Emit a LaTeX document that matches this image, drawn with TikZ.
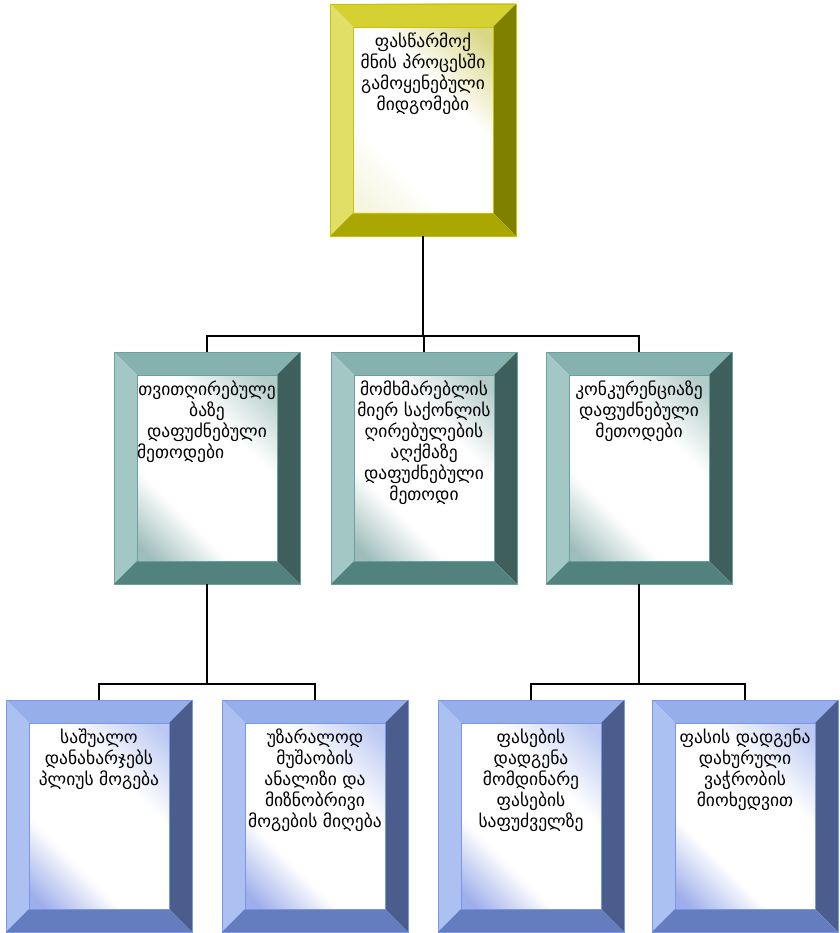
\documentclass[tikz,border=0pt]{standalone}
\usepackage{fontspec}
\newfontfamily\geo{DejaVu Sans}
\usetikzlibrary{calc}

% bevel colours of the three frame families
\definecolor{yTop}{RGB}{214,209,50}
\definecolor{yLeft}{RGB}{226,223,105}
\definecolor{yRight}{RGB}{128,128,0}
\definecolor{yBot}{RGB}{170,168,0}
\definecolor{yEdge}{RGB}{200,194,0}
\definecolor{tTop}{RGB}{133,178,175}
\definecolor{tLeft}{RGB}{163,199,197}
\definecolor{tRight}{RGB}{62,95,92}
\definecolor{tBot}{RGB}{82,130,126}
\definecolor{tEdge}{RGB}{108,160,156}
\definecolor{bTop}{RGB}{150,175,235}
\definecolor{bLeft}{RGB}{172,192,241}
\definecolor{bRight}{RGB}{75,93,140}
\definecolor{bBot}{RGB}{100,125,190}
\definecolor{bEdge}{RGB}{122,150,230}

% soft diagonal fades for the inner panels (bottom-left end first)
\pgfdeclareverticalshading{yfade}{100bp}{rgb(0bp)=(0.96,0.96,0.88); rgb(25bp)=(0.96,0.96,0.88); rgb(38bp)=(1,1,1); rgb(58bp)=(1,1,1); rgb(75bp)=(0.85,0.84,0.52); rgb(100bp)=(0.85,0.84,0.52)}
\pgfdeclareverticalshading{tfade}{100bp}{rgb(0bp)=(0.62,0.74,0.73); rgb(25bp)=(0.62,0.74,0.73); rgb(38bp)=(1,1,1); rgb(60bp)=(1,1,1); rgb(75bp)=(0.70,0.80,0.79); rgb(100bp)=(0.70,0.80,0.79)}
\pgfdeclareverticalshading{bfade}{100bp}{rgb(0bp)=(0.62,0.68,0.92); rgb(25bp)=(0.62,0.68,0.92); rgb(38bp)=(1,1,1); rgb(60bp)=(1,1,1); rgb(75bp)=(0.74,0.79,0.95); rgb(100bp)=(0.74,0.79,0.95)}

\newcommand{\bevw}{23pt}
\newcommand{\panel}[1]{\parbox[t][186pt][t]{140pt}{\centering\geo\fontsize{17.5}{21}\selectfont\vspace*{6pt}#1}}

\tikzset{
  frame/.style={inner sep=23pt, outer sep=0pt, line width=0.8pt,
    minimum width=186pt, minimum height=232pt,
    path picture={
      \coordinate (pnw) at (path picture bounding box.north west);
      \coordinate (pne) at (path picture bounding box.north east);
      \coordinate (psw) at (path picture bounding box.south west);
      \coordinate (pse) at (path picture bounding box.south east);
      \fill[bvT] (pnw) -- (pne) -- ([shift={(-\bevw,-\bevw)}]pne) -- ([shift={(\bevw,-\bevw)}]pnw) -- cycle;
      \fill[bvL] (pnw) -- (psw) -- ([shift={(\bevw,\bevw)}]psw) -- ([shift={(\bevw,-\bevw)}]pnw) -- cycle;
      \fill[bvR] (pne) -- (pse) -- ([shift={(-\bevw,\bevw)}]pse) -- ([shift={(-\bevw,-\bevw)}]pne) -- cycle;
      \fill[bvB] (psw) -- (pse) -- ([shift={(-\bevw,\bevw)}]pse) -- ([shift={(\bevw,\bevw)}]psw) -- cycle;
      \draw[bvE, line width=0.8pt] ([shift={(\bevw,-\bevw)}]pnw) rectangle ([shift={(-\bevw,\bevw)}]pse);
    }},
  yframe/.style={frame, draw=yEdge, shading=yfade, shading angle=-45,
    /utils/exec={\colorlet{bvT}{yTop}\colorlet{bvL}{yLeft}\colorlet{bvR}{yRight}\colorlet{bvB}{yBot}\colorlet{bvE}{yEdge}}},
  tframe/.style={frame, draw=tEdge, shading=tfade, shading angle=-45,
    /utils/exec={\colorlet{bvT}{tTop}\colorlet{bvL}{tLeft}\colorlet{bvR}{tRight}\colorlet{bvB}{tBot}\colorlet{bvE}{tEdge}}},
  bframe/.style={frame, draw=bEdge, shading=bfade, shading angle=-45,
    /utils/exec={\colorlet{bvT}{bTop}\colorlet{bvL}{bLeft}\colorlet{bvR}{bRight}\colorlet{bvB}{bBot}\colorlet{bvE}{bEdge}}},
  link/.style={draw=black, line width=2pt},
}

\begin{document}
\begin{tikzpicture}[x=1pt, y=-1pt]
\useasboundingbox (0,0) rectangle (839,933);

% root
\node[yframe] (root) at (423,120) {\panel{ფასწარმოქ\\ მნის პროცესში\\ გამოყენებული\\ მიდგომები}};

% second level
\node[tframe] (m1) at (207,468) {\panel{თვითღირებულე\\ ბაზე\\ დაფუძნებული\\ \makebox[\linewidth][l]{მეთოდები}}};
\node[tframe] (m2) at (424,468) {\panel{მომხმარებლის\\ მიერ საქონლის\\ ღირებულების\\ აღქმაზე\\ დაფუძნებული\\ მეთოდი}};
\node[tframe] (m3) at (639,468) {\panel{კონკურენციაზე\\ დაფუძნებული\\ მეთოდები}};

% third level
\node[bframe] (b1) at (99,816) {\panel{საშუალო\\ დანახარჯებს\\ პლიუს მოგება}};
\node[bframe] (b2) at (315,816) {\panel{უზარალოდ\\ მუშაობის\\ ანალიზი და\\ მიზნობრივი\\ მოგების მიღება}};
\node[bframe] (b3) at (531,816) {\panel{ფასების\\ დადგენა\\ მომდინარე\\ ფასების\\ საფუძველზე}};
\node[bframe] (b4) at (745,816) {\panel{ფასის დადგენა\\ დახურული\\ ვაჭრობის\\ მიოხედვით}};

% connectors
\coordinate (j1) at (423,336);
\coordinate (j2) at (207,684);
\coordinate (j3) at (639,684);
\draw[link] (root.south) -- (root.south |- j1);
\draw[link] (m1.north) -- (m1.north |- j1) -- (m3.north |- j1) -- (m3.north);
\draw[link] (m2.north) -- (m2.north |- j1);
\draw[link] (m1.south) -- (j2);
\draw[link] (b1.north) -- (b1.north |- j2) -- (b2.north |- j2) -- (b2.north);
\draw[link] (m3.south) -- (j3);
\draw[link] (b3.north) -- (b3.north |- j3) -- (b4.north |- j3) -- (b4.north);
\end{tikzpicture}
\end{document}
